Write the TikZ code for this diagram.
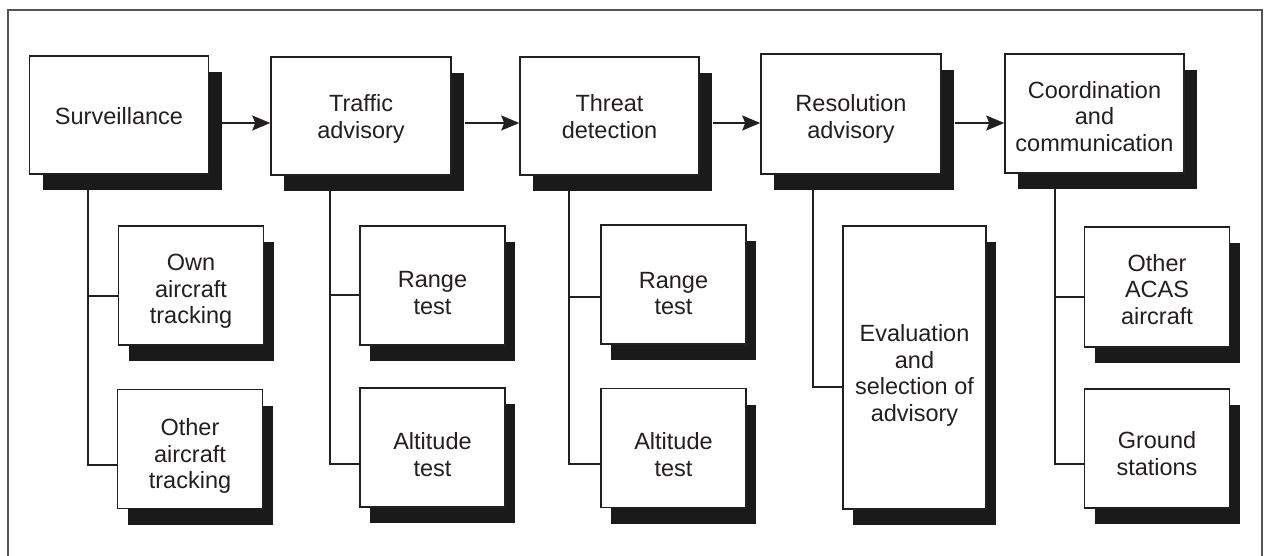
\documentclass[tikz,border=0pt]{standalone}
\usepackage{fontspec}
\setmainfont{Liberation Sans}
\usetikzlibrary{shadows,arrows.meta}
\definecolor{ink}{HTML}{231F20}
\definecolor{shade}{HTML}{1A1A1A}
\definecolor{framegray}{HTML}{555555}
% fixed line metrics: the first-line strut (raised by #1) and the last-line strut
\newcommand\tstart[1]{\rule{0pt}{\dimexpr 24pt+2\dimexpr #1pt\relax\relax}}
\newcommand\tstop{\rule[-6pt]{0pt}{6pt}}
\begin{document}
\begin{tikzpicture}[x=1pt,y=-1pt,
  every node/.style={font=\fontsize{23.5}{26.5}\selectfont, text=ink},
  stagebox/.style={draw=ink, line width=1.5pt, fill=white, rectangle,
    inner sep=0pt, align=center, minimum width=179pt, minimum height=118pt,
    drop shadow={shadow xshift=13pt, shadow yshift=-16pt, opacity=1, fill=shade}},
  taskbox/.style={draw=ink, line width=1.5pt, fill=white, rectangle,
    inner sep=0pt, align=center, minimum width=145pt, minimum height=119pt,
    drop shadow={shadow xshift=10pt, shadow yshift=-16pt, opacity=1, fill=shade}},
  link/.style={draw=ink, line width=1.3pt},
  flow/.style={draw=ink, line width=1.5pt, -{Stealth[length=18pt,width=15pt,inset=3pt]}}]

\useasboundingbox (0,0) rectangle (1264,555);

% outer frame, open at the bottom
\draw[framegray, line width=1.2pt] (8,556) -- (8,10) -- (1262,10) -- (1262,556);

% main processing stages
\node[stagebox] (surv)   at (119,115)    {\tstart{0}Surveillance\tstop};
\node[stagebox, minimum width=180pt] (traf) at (361,116) {\tstart{0}Traffic\\advisory\tstop};
\node[stagebox] (threat) at (609.5,116)  {\tstart{0}Threat\\detection\tstop};
\node[stagebox, minimum width=180pt, minimum height=120pt] (resol) at (851,114) {\tstart{2}Resolution\\advisory\tstop};
\node[stagebox, minimum height=119pt] (coord) at (1094.5,113.5) {\tstart{2}Coordination\\and\\communication\tstop};

% sub-tasks
\node[taskbox] (own)    at (191,285.5)  {\tstart{2.7}Own\\aircraft\\tracking\tstop};
\node[taskbox] (other)  at (190,449)    {\tstart{4.3}Other\\aircraft\\tracking\tstop};
\node[taskbox] (trange) at (432.5,285.5){\tstart{6.7}Range\\test\tstop};
\node[taskbox] (talt)   at (432.5,447.5){\tstart{6.7}Altitude\\test\tstop};
\node[taskbox] (drange) at (673.5,284.5){\tstart{8}Range\\test\tstop};
\node[taskbox] (dalt)   at (673.5,448)  {\tstart{6}Altitude\\test\tstop};
\node[taskbox, minimum width=143pt, minimum height=283pt] (eval) at (914.5,367.5) {\tstart{5}Evaluation\\and\\selection of\\advisory\tstop};
\node[taskbox, minimum height=120pt] (acas) at (1157,287) {\tstart{1.5}Other\\ACAS\\aircraft\tstop};
\node[taskbox] (ground) at (1157,448.5) {\tstart{4.7}Ground\\stations\tstop};

% flow between stages
\draw[flow] ([xshift=13pt,yshift=-8pt]surv.east)   -- ([yshift=-7pt]traf.west);
\draw[flow] ([xshift=13pt,yshift=-7pt]traf.east)   -- ([yshift=-7pt]threat.west);
\draw[flow] ([xshift=13pt,yshift=-7pt]threat.east) -- ([yshift=-9pt]resol.west);
\draw[flow] ([xshift=13pt,yshift=-9pt]resol.east)  -- ([yshift=-9.5pt]coord.west);

% trunks under each stage
\coordinate (sT) at (88,190);
\coordinate (tT) at (330,190);
\coordinate (dT) at (569,190);
\coordinate (rT) at (813,189);
\coordinate (cT) at (1055,188);

\draw[link] (sT) |- ([yshift=-10.5pt]own.west);
\draw[link] (sT) |- ([yshift=-16pt]other.west);
\draw[link] (tT) |- ([yshift=-9.5pt]trange.west);
\draw[link] (tT) |- ([yshift=-16.5pt]talt.west);
\draw[link] (dT) |- ([yshift=-12.5pt]drange.west);
\draw[link] (dT) |- ([yshift=-16pt]dalt.west);
\draw[link] (rT) |- ([yshift=-19.5pt]eval.west);
\draw[link] (cT) |- ([yshift=-10pt]acas.west);
\draw[link] (cT) |- ([yshift=-15.5pt]ground.west);
\end{tikzpicture}
\end{document}
